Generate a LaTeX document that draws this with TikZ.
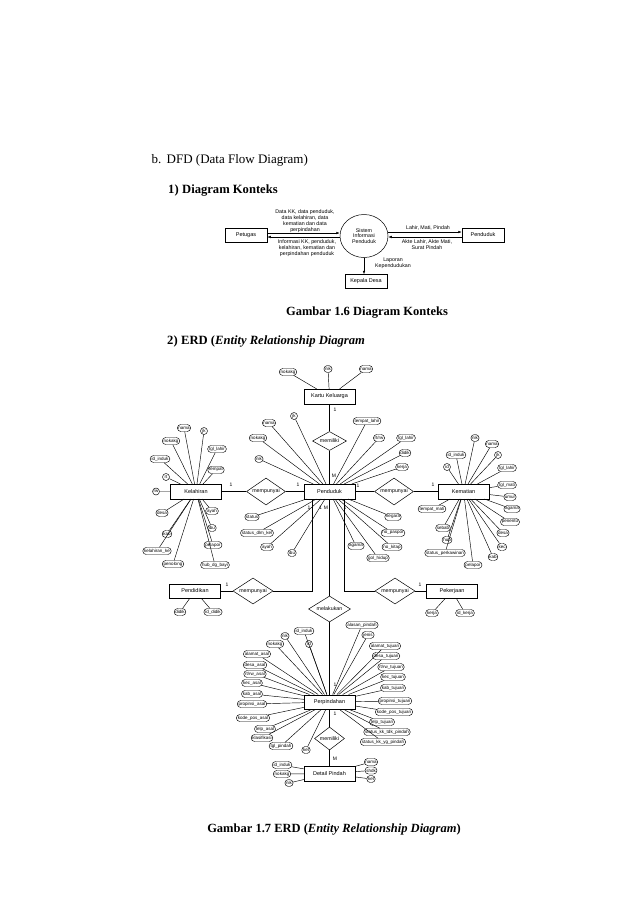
\documentclass[tikz,border=0pt]{standalone}
\usepackage{fontspec}
\setmainfont{Liberation Serif}
\newfontfamily\arialf{Liberation Sans}
\usetikzlibrary{shapes.geometric,shapes.misc,arrows.meta}
\begin{document}
\begin{tikzpicture}[x=1pt,y=-1pt,
  body/.style={anchor=base west,inner sep=0pt,font=\fontsize{13}{15}\selectfont},
  bodyb/.style={anchor=base west,inner sep=0pt,font=\fontsize{12.6}{14}\selectfont\bfseries},
  captxt/.style={anchor=base,inner sep=0pt,font=\fontsize{12.5}{14}\selectfont\bfseries},
  cbox/.style={draw,line width=0.5pt,minimum width=42pt,minimum height=14pt,inner sep=0pt,font=\arialf\fontsize{5.5}{6}\selectfont},
  ctx/.style={align=center,inner sep=0pt,font=\arialf\fontsize{5.3}{6}\selectfont},
  arr/.style={-{Latex[length=3.5pt,width=2.6pt]},line width=0.5pt},
  ent/.style={draw,line width=0.5pt,rectangle,minimum width=51pt,minimum height=14.5pt,inner sep=0pt,font=\arialf\fontsize{5.5}{6}\selectfont},
  attr/.style={draw,line width=0.45pt,rounded rectangle,minimum height=7pt,inner xsep=0.8pt,inner ysep=0pt,fill=white,font=\arialf\fontsize{4.5}{5}\selectfont},
  rel/.style={draw,line width=0.5pt,diamond,aspect=1.5,inner sep=0pt,fill=white,font=\arialf\fontsize{5.3}{6}\selectfont},
  card/.style={inner sep=0pt,font=\arialf\fontsize{5}{6}\selectfont},
  ln/.style={line width=0.45pt}]
\fill[white] (0,0) rectangle (638,903);
\useasboundingbox (0,0) rectangle (638,903);

% ---------- body text ----------
\node[body] (tb) at (151.5,163) {b.};
\node[body] (tdfd) at (166.5,163) {DFD (Data Flow Diagram)};
\node[bodyb] (t1) at (168,193) {1)};
\node[bodyb] (t1b) at (182,193) {Diagram Konteks};
\node[captxt] (cap1) at (367,315) {Gambar 1.6 Diagram Konteks};
\node[bodyb] (t2) at (167,344) {2)};
\node[bodyb] (t2b) at (181,344) {ERD (\textit{Entity Relationship Diagram}};
\node[captxt] (cap2) at (334,832) {Gambar 1.7 ERD (\textit{Entity Relationship Diagram})};

% ---------- context diagram ----------
\node[cbox] (pet) at (246,235) {Petugas};
\node[draw,line width=0.5pt,ellipse,minimum width=48pt,minimum height=43pt,inner sep=0pt,align=center,font=\arialf\fontsize{5.3}{5.8}\selectfont] (sis) at (364,236) {Sistem\\Informasi\\Penduduk};
\node[cbox] (pdk) at (483,235) {Penduduk};
\node[cbox] (kd) at (366,281.5) {Kepala Desa};
\draw[arr] ([yshift=2pt]pet.east) -- ([yshift=2pt]pet.east -| sis.west);
\draw[arr] ([yshift=-2pt]pet.east -| sis.west) -- ([yshift=-2pt]pet.east);
\draw[arr] ([yshift=3pt]pdk.west -| sis.east) -- ([yshift=3pt]pdk.west);
\draw[arr] ([yshift=-2pt]pdk.west) -- ([yshift=-2pt]pdk.west -| sis.east);
\draw[arr] (sis.south) -- (sis.south |- kd.north);
\node[ctx] (l1) at (305,221) {Data KK, data penduduk,\\data kelahiran, data\\kematian dan data\\perpindahan};
\node[ctx] (l2) at (307,248) {Informasi KK, penduduk,\\kelahiran, kematian dan\\perpindahan penduduk};
\node[ctx] (l3) at (428,228) {Lahir, Mati, Pindah};
\node[ctx] (l4) at (427,245) {Akte Lahir, Akte Mati,\\Surat Pindah};
\node[ctx] (l5) at (393,263) {Laporan\\Kependudukan};

% ---------- ERD entities ----------
\node[ent] (kk) at (329.5,396.5) {Kartu Keluarga};
\node[ent] (pend) at (329.5,491.5) {Penduduk};
\node[ent] (kel) at (196,491.5) {Kelahiran};
\node[ent] (kem) at (463.5,491.5) {Kematian};
\node[ent] (edu) at (195,591) {Pendidikan};
\node[ent] (job) at (452,591) {Pekerjaan};
\node[ent] (pin) at (329.5,702) {Perpindahan};
\node[ent] (det) at (329.5,773.5) {Detail Pindah};

% ---------- relationships ----------
\node[rel,minimum width=34pt,minimum height=19pt] (r1) at (329.5,441) {memiliki};
\node[rel,minimum width=39pt,minimum height=27pt] (r2) at (266,491.5) {mempunyai};
\node[rel,minimum width=39pt,minimum height=27pt] (r3) at (394,491.5) {mempunyai};
\node[rel,minimum width=40pt,minimum height=26pt] (r4) at (253,591) {mempunyai};
\node[rel,minimum width=40pt,minimum height=26pt] (r5) at (395,591) {mempunyai};
\node[rel,minimum width=42pt,minimum height=26pt] (r6) at (329.5,609) {melakukan};
\node[rel,minimum width=30pt,minimum height=23pt] (r7) at (329.5,738.5) {memiliki};

\draw[ln] (kk) -- (r1) -- (pend);
\draw[ln] (kel) -- (r2) -- (pend);
\draw[ln] (pend) -- (r3) -- (kem);
\draw[ln] (edu) -- (r4);
\draw[ln] (r4) -| ([xshift=-17.5pt]pend.south);
\draw[ln] (job) -- (r5);
\draw[ln] (r5) -| ([xshift=15pt]pend.south);
\draw[ln] (pend) -- (r6) -- (pin) -- (r7) -- (det);

% ---------- cardinalities ----------
\node[card] (c1) at (335,410) {1};
\node[card] (c2) at (334,476) {M};
\node[card] (c3) at (231,485) {1};
\node[card] (c4) at (298,485) {1};
\node[card] (c5) at (358,486) {1};
\node[card] (c6) at (433,485) {1};
\node[card] (c7) at (309,508) {1};
\node[card] (c8) at (320.5,508) {1};
\node[card] (c9) at (326,508) {M};
\node[card] (c10) at (345,508) {1};
\node[card] (c11) at (227,585) {1};
\node[card] (c12) at (420,585) {1};
\node[card] (c13) at (335,685) {1};
\node[card] (c14) at (335,714) {1};
\node[card] (c15) at (335,759) {M};

% ---------- attributes: Kartu Keluarga ----------
\node[attr] (ka1) at (288,372) {nokakg};
\node[attr] (ka2) at (328,369) {nik};
\node[attr] (ka3) at (366,369) {nama};
\foreach \a in {ka1,ka2,ka3} \draw[ln] (\a) -- (kk);

% ---------- attributes: Penduduk ----------
\node[attr] (pa1) at (269,423) {nama};
\node[attr] (pa2) at (294,416) {jk};
\node[attr] (pa3) at (258,438) {nokakg};
\node[attr] (pa4) at (259,459) {nik};
\node[attr] (pa5) at (367,421) {tempat\_lahir};
\node[attr] (pa6) at (379,438) {rt/rw};
\node[attr] (pa7) at (406,438) {tgl\_lahir};
\node[attr] (pa8) at (405,453) {didik};
\node[attr] (pa9) at (402,467) {kerja};
\node[attr] (pa10) at (252,517) {status};
\node[attr] (pa11) at (257,533) {status\_dlm\_kel};
\node[attr] (pa12) at (267,547) {ayah};
\node[attr] (pa13) at (292,553) {ibu};
\node[attr] (pa14) at (356,546) {agama};
\node[attr] (pa15) at (393,517) {negara};
\node[attr] (pa16) at (393,533) {no\_paspor};
\node[attr] (pa17) at (392,547) {no\_kitap};
\node[attr] (pa18) at (378,558) {gol\_hidup};
\foreach \a in {pa1,pa2,pa3,pa4,pa5,pa6,pa7,pa8,pa9,pa10,pa11,pa12,pa13,pa14,pa15,pa16,pa17,pa18} \draw[ln] (\a) -- (pend);

% ---------- attributes: Kelahiran ----------
\node[attr] (la1) at (184,428) {nama};
\node[attr] (la2) at (204,431) {jk};
\node[attr] (la3) at (171,441) {nokakg};
\node[attr] (la4) at (217,449) {tgl\_lahir};
\node[attr] (la5) at (160,459) {id\_induk};
\node[attr] (la6) at (216,470) {tempat};
\node[attr] (la7) at (166,477) {rt};
\node[attr] (la8) at (156,491.5) {rw};
\node[attr] (la9) at (162,513) {desa};
\node[attr] (la10) at (167,534) {kab};
\node[attr] (la11) at (157,551) {kelahiran\_ke};
\node[attr] (la12) at (173,564) {penolong};
\node[attr] (la13) at (215,565) {hub\_dg\_bayi};
\node[attr] (la14) at (212,511) {ayah};
\node[attr] (la15) at (212,528) {ibu};
\node[attr] (la16) at (213,545) {pelapor};
\foreach \a in {la1,la2,la3,la4,la5,la6,la7,la8,la9,la10,la11,la12,la13,la14,la15,la16} \draw[ln] (\a) -- (kel);

% ---------- attributes: Kematian ----------
\node[attr] (ma1) at (475,438) {nik};
\node[attr] (ma2) at (492,444) {nama};
\node[attr] (ma3) at (456,455) {id\_induk};
\node[attr] (ma4) at (498,455) {jk};
\node[attr] (ma5) at (447,467) {id};
\node[attr] (ma6) at (507,468) {tgl\_lahir};
\node[attr] (ma7) at (507,485) {tgl\_mati};
\node[attr] (ma8) at (510,497) {umur};
\node[attr] (ma9) at (512,509) {agama};
\node[attr] (ma10) at (510,522) {penentu};
\node[attr] (ma11) at (503,533) {desa};
\node[attr] (ma12) at (502,547) {kec};
\node[attr] (ma13) at (493,557) {kab};
\node[attr] (ma14) at (473,565) {pelapor};
\node[attr] (ma15) at (432,509) {tempat\_mati};
\node[attr] (ma16) at (443,528) {sebab};
\node[attr] (ma17) at (447,540) {hub};
\node[attr] (ma18) at (445,553) {status\_perkawinan};
\foreach \a in {ma1,ma2,ma3,ma4,ma5,ma6,ma7,ma8,ma9,ma10,ma11,ma12,ma13,ma14,ma15,ma16,ma17,ma18} \draw[ln] (\a) -- (kem);

% ---------- attributes: Pendidikan / Pekerjaan ----------
\node[attr] (ea1) at (180,612) {didik};
\node[attr] (ea2) at (213,612) {id\_didik};
\node[attr] (ja1) at (432,613) {kerja};
\node[attr] (ja2) at (465,613) {id\_kerja};
\foreach \a in {ea1,ea2} \draw[ln] (\a) -- (edu);
\foreach \a in {ja1,ja2} \draw[ln] (\a) -- (job);

% ---------- attributes: Perpindahan ----------
\node[attr] (ra1) at (285,636) {nik};
\node[attr] (ra2) at (304,631) {id\_induk};
\node[attr] (ra3) at (275,644) {nokakg};
\node[attr] (ra4) at (309,644) {id};
\node[attr] (ra5) at (257,654) {alamat\_asal};
\node[attr] (ra6) at (255,665) {desa\_asal};
\node[attr] (ra7) at (255,674) {rt/rw\_asal};
\node[attr] (ra8) at (252,683) {kec\_asal};
\node[attr] (ra9) at (252,694) {kab\_asal};
\node[attr] (ra10) at (252,704) {propinsi\_asal};
\node[attr] (ra11) at (253,718) {kode\_pos\_asal};
\node[attr] (ra12) at (265,729) {telp\_asal};
\node[attr] (ra13) at (262,738) {klasifikasi};
\node[attr] (ra14) at (281,746) {tgl\_pindah};
\node[attr] (ra15) at (306,750) {ket};
\node[attr] (ra16) at (362,625) {alasan\_pindah};
\node[attr] (ra17) at (368,635) {jenis};
\node[attr] (ra18) at (385,646) {alamat\_tujuan};
\node[attr] (ra19) at (386,656) {desa\_tujuan};
\node[attr] (ra20) at (391,667) {rt/rw\_tujuan};
\node[attr] (ra21) at (393,677) {kec\_tujuan};
\node[attr] (ra22) at (393,688) {kab\_tujuan};
\node[attr] (ra23) at (395,701) {propinsi\_tujuan};
\node[attr] (ra24) at (394,712) {kode\_pos\_tujuan};
\node[attr] (ra25) at (382,722) {telp\_tujuan};
\node[attr] (ra26) at (387,732) {status\_kk\_tdk\_pindah};
\node[attr] (ra27) at (383,742) {status\_kk\_yg\_pindah};
\foreach \a in {ra1,ra2,ra3,ra4,ra5,ra6,ra7,ra8,ra9,ra10,ra11,ra12,ra13,ra14,ra15,ra16,ra17,ra18,ra19,ra20,ra21,ra22,ra23,ra24,ra25,ra26,ra27} \draw[ln] (\a) -- (pin);

% ---------- attributes: Detail Pindah ----------
\node[attr] (da1) at (282,765) {id\_induk};
\node[attr] (da2) at (282,774) {nokakg};
\node[attr] (da3) at (289,783) {nik};
\node[attr] (da4) at (371,762) {nama};
\node[attr] (da5) at (371,770.5) {shdk};
\node[attr] (da6) at (371,779) {ket};
\foreach \a in {da1,da2,da3,da4,da5,da6} \draw[ln] (\a) -- (det);
\end{tikzpicture}
\end{document}
